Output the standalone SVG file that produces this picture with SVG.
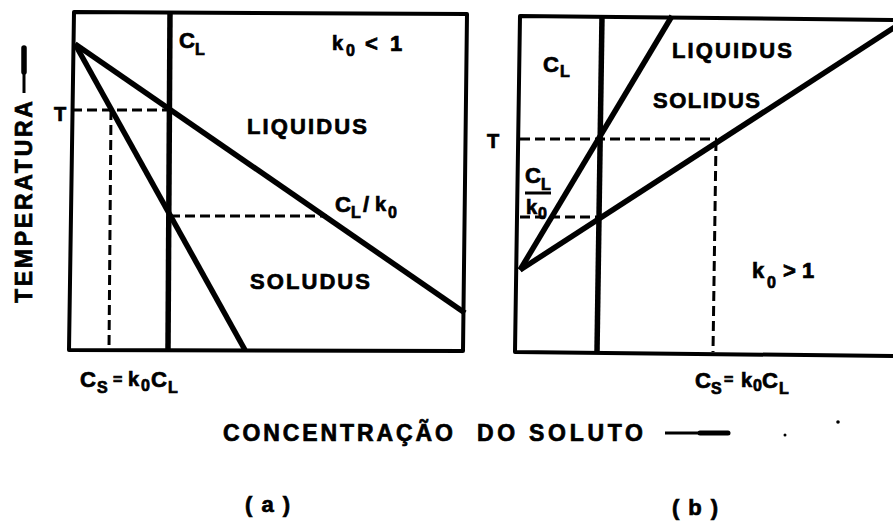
<svg xmlns="http://www.w3.org/2000/svg" width="893" height="521" viewBox="0 0 893 521">
<style>
.t{font-family:"Liberation Sans",Arial,sans-serif;font-weight:bold;fill:#000;stroke:#000;stroke-width:0.7}
.box{fill:none;stroke:#000;stroke-width:4;stroke-linejoin:round}
.thick{fill:none;stroke:#000;stroke-width:5.5;stroke-linecap:butt}
.dash{fill:none;stroke:#000;stroke-width:3;stroke-dasharray:10 5}
.s22{font-size:22px}.s20{font-size:20px}.s16{font-size:16px}.s15{font-size:15px}
</style>
<rect width="893" height="521" fill="#fff"/>
<g id="axis-temperatura">
<line x1="24" y1="70" x2="24" y2="93" stroke="#000" stroke-width="3"/>
<line x1="24" y1="48" x2="24" y2="72" stroke="#000" stroke-width="5.5" stroke-linecap="round"/>
<text class="t" font-size="23" transform="translate(32,303) rotate(-90)" textLength="202" lengthAdjust="spacing">TEMPERATURA</text>
</g>
<g id="panel-a">
<path class="box" d="M74,12 L467,14 L463,351 L69,350 Z"/>
<g id="connectors-a">
<line class="thick" x1="170" y1="12" x2="168" y2="350"/>
<line class="thick" x1="75" y1="44" x2="465" y2="313"/>
<line class="thick" x1="75" y1="44" x2="245" y2="350"/>
<line class="dash" x1="72" y1="110" x2="170" y2="110"/>
<line class="dash" x1="111" y1="110" x2="109" y2="350"/>
<line class="dash" x1="170" y1="216" x2="327" y2="216"/>
</g>
<text class="t s20" x="54" y="121">T</text>
<text class="t"><tspan class="s22" x="179" y="48">C</tspan><tspan class="s16" x="195" y="55">L</tspan></text>
<text class="t"><tspan class="s20" x="332" y="50">k</tspan><tspan class="s16" x="346" y="56">0</tspan><tspan class="s22" x="365" y="51">&lt;</tspan><tspan class="s22" x="390" y="51">1</tspan></text>
<text class="t s22" x="247" y="134" textLength="120" lengthAdjust="spacing">LIQUIDUS</text>
<text class="t"><tspan class="s22" x="335" y="212">C</tspan><tspan class="s16" x="351" y="218">L</tspan><tspan class="s22" x="363" y="212">/</tspan><tspan class="s20" x="375" y="211">k</tspan><tspan class="s16" x="388" y="218">0</tspan></text>
<text class="t s22" x="250" y="289" textLength="120" lengthAdjust="spacing">SOLUDUS</text>
<text class="t"><tspan class="s22" x="80" y="387">C</tspan><tspan class="s16" x="97" y="393">S</tspan><tspan class="s16" x="113" y="385">=</tspan><tspan class="s20" x="128" y="386">k</tspan><tspan class="s16" x="141" y="391">0</tspan><tspan class="s22" x="151" y="387">C</tspan><tspan class="s16" x="168" y="393">L</tspan></text>
<text class="t s22" x="245" y="512" textLength="45" lengthAdjust="spacing">(a)</text>
</g>
<g id="panel-b">
<path class="box" d="M893,20 L520,16 L515,352 L893,356"/>
<g id="connectors-b">
<line class="thick" x1="602" y1="16" x2="597" y2="352"/>
<line class="thick" x1="520" y1="270" x2="672" y2="16"/>
<line class="thick" x1="520" y1="270" x2="895" y2="27"/>
<line class="dash" x1="520" y1="139" x2="717" y2="139"/>
<line class="dash" x1="520" y1="217" x2="600" y2="217"/>
<line class="dash" x1="716" y1="141" x2="713" y2="352"/>
</g>
<text class="t s20" x="487" y="148">T</text>
<text class="t"><tspan class="s22" x="543" y="72">C</tspan><tspan class="s16" x="560" y="77">L</tspan></text>
<text class="t s22" x="672" y="58" textLength="120" lengthAdjust="spacing">LIQUIDUS</text>
<text class="t s22" x="653" y="108" textLength="107" lengthAdjust="spacing">SOLIDUS</text>
<text class="t"><tspan class="s22" x="525" y="183">C</tspan><tspan class="s16" x="541" y="190">L</tspan></text>
<line x1="525" y1="193" x2="551" y2="193" stroke="#000" stroke-width="3"/>
<text class="t"><tspan class="s20" x="526" y="214">k</tspan><tspan class="s16" x="538" y="219">0</tspan></text>
<text class="t"><tspan class="s22" x="752" y="278">k</tspan><tspan class="s16" x="767" y="288">0</tspan><tspan class="s22" x="783" y="278">&gt;</tspan><tspan class="s22" x="802" y="278">1</tspan></text>
<text class="t"><tspan class="s22" x="695" y="388">C</tspan><tspan class="s16" x="711" y="394">S</tspan><tspan class="s16" x="724" y="385">=</tspan><tspan class="s20" x="741" y="387">k</tspan><tspan class="s16" x="753" y="391">0</tspan><tspan class="s22" x="762" y="388">C</tspan><tspan class="s16" x="779" y="394">L</tspan></text>
<text class="t s22" x="672" y="515" textLength="46" lengthAdjust="spacing">(b)</text>
</g>
<g id="axis-concentracao">
<text class="t" font-size="23" x="223" y="441" textLength="230" lengthAdjust="spacing">CONCENTRAÇÃO</text>
<text class="t" font-size="23" x="477" y="441" textLength="166" lengthAdjust="spacing">DO SOLUTO</text>
<line x1="665" y1="433" x2="702" y2="433" stroke="#000" stroke-width="3"/>
<line x1="700" y1="433" x2="728" y2="433" stroke="#000" stroke-width="5" stroke-linecap="round"/>
</g>
<circle cx="838" cy="422" r="1.8" fill="#000"/>
<circle cx="785" cy="435" r="1.5" fill="#000"/>
</svg>
